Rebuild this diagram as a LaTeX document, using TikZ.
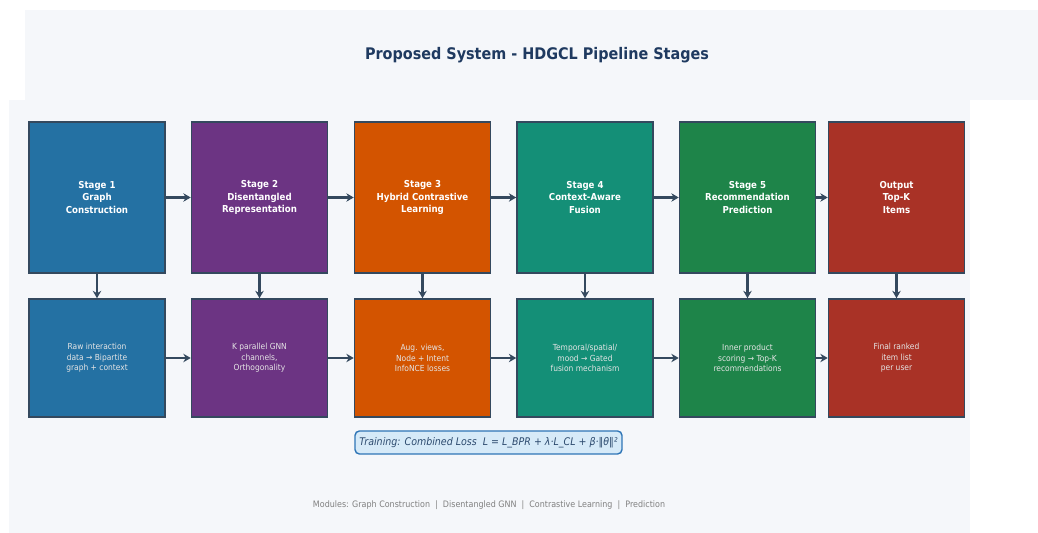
\documentclass[tikz,border=0pt]{standalone}
\usepackage{fontspec}
\setmainfont{DejaVu Sans}[FakeStretch=0.9]
\usetikzlibrary{arrows.meta}

\definecolor{pagebg}{HTML}{F5F7FA}
\definecolor{edgegray}{HTML}{34495E}
\definecolor{titlenavy}{HTML}{1F3A60}
\definecolor{stageblue}{HTML}{2471A3}
\definecolor{stagepurple}{HTML}{6C3483}
\definecolor{stageorange}{HTML}{D35400}
\definecolor{stageteal}{HTML}{148F77}
\definecolor{stagegreen}{HTML}{1E8449}
\definecolor{stagered}{HTML}{A93226}
\definecolor{lossfill}{HTML}{D6EAF8}
\definecolor{lossedge}{HTML}{2E75B6}
\definecolor{losstext}{HTML}{2C4A6E}

\tikzset{
  stagebox/.style={draw=edgegray, line width=0.9pt, minimum width=2.72cm, minimum height=3.02cm,
    inner sep=0pt, align=center, text=white, font=\bfseries\fontsize{5.45}{7.2}\selectfont},
  detailbox/.style={stagebox, minimum height=2.36cm, text=white!90!black,
    font=\fontsize{4.75}{6}\selectfont},
  flow/.style={draw=edgegray, line width=1.25pt, -{Stealth[length=4.2pt,width=4.8pt]}},
}

\begin{document}
\begin{tikzpicture}[x=0.02cm, y=-0.02cm]
\def\ya{197.5}
\def\yb{358}

\def\xa{97}
\def\xb{259.5}
\def\xc{422.5}
\def\xd{585}
\def\xe{747.5}
\def\xf{896.5}

\useasboundingbox (0,0) rectangle (1038,533);
\fill[pagebg] (25,10) rectangle (1038,100);
\fill[pagebg] (9,100) rectangle (970,533);

\node[text=titlenavy, font=\bfseries\fontsize{9.1}{11}\selectfont] (title) at (537,55) {Proposed System - HDGCL Pipeline Stages};

% stages
\node[stagebox, fill=stageblue] (s1) at (\xa,\ya) {Stage 1\\Graph\\Construction};
\node[stagebox, fill=stagepurple] (s2) at (\xb,\ya) {Stage 2\\Disentangled\\Representation};
\node[stagebox, fill=stageorange] (s3) at (\xc,\ya) {Stage 3\\Hybrid Contrastive\\Learning};
\node[stagebox, fill=stageteal] (s4) at (\xd,\ya) {Stage 4\\Context-Aware\\Fusion};
\node[stagebox, fill=stagegreen] (s5) at (\xe,\ya) {Stage 5\\Recommendation\\Prediction};
\node[stagebox, fill=stagered] (s6) at (\xf,\ya) {Output\\Top-K\\Items};

% details
\node[detailbox, fill=stageblue] (d1) at (\xa,\yb) {Raw interaction\\data → Bipartite\\graph + context};
\node[detailbox, fill=stagepurple] (d2) at (\xb,\yb) {K parallel GNN\\channels,\\Orthogonality};
\node[detailbox, fill=stageorange] (d3) at (\xc,\yb) {Aug. views,\\Node + Intent\\InfoNCE losses};
\node[detailbox, fill=stageteal] (d4) at (\xd,\yb) {Temporal/spatial/\\mood → Gated\\fusion mechanism};
\node[detailbox, fill=stagegreen] (d5) at (\xe,\yb) {Inner product\\scoring → Top-K\\recommendations};
\node[detailbox, fill=stagered] (d6) at (\xf,\yb) {Final ranked\\item list\\per user};

\draw[flow] (s1) -- (s2);
\draw[flow] (s2) -- (s3);
\draw[flow] (s3) -- (s4);
\draw[flow] (s4) -- (s5);
\draw[flow] (s5) -- (s6);

\draw[flow] (d1) -- (d2);
\draw[flow] (d2) -- (d3);
\draw[flow] (d3) -- (d4);
\draw[flow] (d4) -- (d5);
\draw[flow] (d5) -- (d6);

\draw[flow] (s1) -- (d1);
\draw[flow] (s2) -- (d2);
\draw[flow] (s3) -- (d3);
\draw[flow] (s4) -- (d4);
\draw[flow] (s5) -- (d5);
\draw[flow] (s6) -- (d6);

\node[draw=lossedge, fill=lossfill, rounded corners=2.5pt, line width=0.8pt, minimum width=5.34cm, minimum height=0.46cm,
  inner sep=0pt, text=losstext, font=\itshape\fontsize{6}{7}\selectfont] (loss) at (488.5,442.5)
  {Training: Combined Loss\ \ L = L\_BPR + λ·L\_CL + β·‖θ‖²};

\node[text=gray, font=\fontsize{5.05}{6}\selectfont] (modules) at (489,505)
  {Modules: Graph Construction\ \ |\ \ Disentangled GNN\ \ |\ \ Contrastive Learning\ \ |\ \ Prediction};
\end{tikzpicture}
\end{document}
